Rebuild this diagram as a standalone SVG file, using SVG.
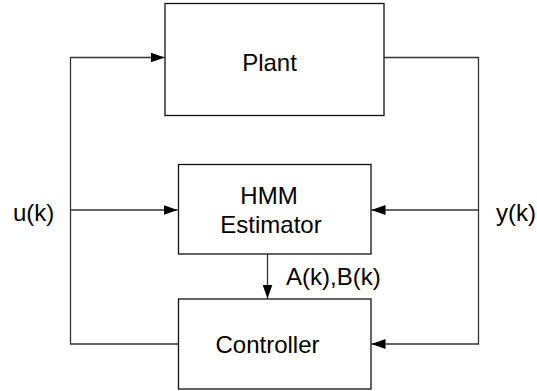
<svg xmlns="http://www.w3.org/2000/svg" width="537" height="391" viewBox="0 0 537 391">
<style>
.box{fill:#fff;stroke:#111;stroke-width:1.3}
.ln{fill:none;stroke:#333;stroke-width:1.3}
text{font-family:"Liberation Sans",Arial,sans-serif;font-size:24px;fill:#000}
.c{text-anchor:middle}
</style>
<defs>
<marker id="ah" markerUnits="userSpaceOnUse" markerWidth="14" markerHeight="10" refX="14" refY="5" orient="auto">
<path d="M0,0 L14,5 L0,10 z" fill="#000"/>
</marker>
</defs>
<g id="connectors">
<path class="ln" d="M178,344 H70.5 V57.5 H164.5" marker-end="url(#ah)"/>
<path class="ln" d="M384,57.5 H478.5 V344 H371.5" marker-end="url(#ah)"/>
<path class="ln" d="M70.5,210 H177.5" marker-end="url(#ah)"/>
<path class="ln" d="M478.5,210 H371.5" marker-end="url(#ah)"/>
<path class="ln" d="M267.5,254 V298.5" marker-end="url(#ah)"/>
</g>
<g id="plant">
<rect class="box" x="165" y="3.5" width="219" height="112"/>
<text class="c" x="269.5" y="71">Plant</text>
</g>
<g id="hmm">
<rect class="box" x="178.5" y="164.5" width="192.5" height="89.5"/>
<text class="c" x="269" y="204">HMM</text>
<text class="c" x="271" y="233">Estimator</text>
</g>
<g id="controller">
<rect class="box" x="178.5" y="299" width="192.5" height="90"/>
<text class="c" x="267.5" y="353">Controller</text>
</g>
<g id="labels">
<text x="13" y="221">u(k)</text>
<text x="496" y="221">y(k)</text>
<text x="286" y="285">A(k),B(k)</text>
</g>
</svg>
